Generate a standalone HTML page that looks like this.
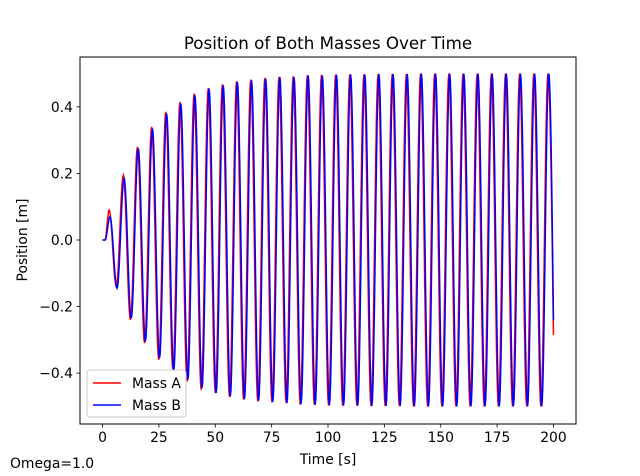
<!DOCTYPE html>
<html><head><meta charset="utf-8"><style>
html,body{margin:0;padding:0;background:#fff;}
svg{display:block;font-family:"DejaVu Sans","Liberation Sans",sans-serif;}
</style></head><body>
<svg id="chart" width="640" height="476" viewBox="0 0 640 476">
<rect x="0" y="0" width="640" height="476" fill="#fff"/>
<text x="328" y="49" font-size="16.7" text-anchor="middle" fill="#000">Position of Both Masses Over Time</text>
<g id="plot"></g>
<text x="328" y="464" font-size="13.9" text-anchor="middle" fill="#000">Time [s]</text>
<text x="0" y="0" font-size="13.9" text-anchor="middle" fill="#000" transform="translate(27,240) rotate(-90)">Position [m]</text>
<text x="10" y="468" font-size="13.9" fill="#000">Omega=1.0</text>
</svg>
<script>
const xTicks=[0,25,50,75,100,125,150,175,200];
const yTicks=[-0.4,-0.2,0,0.2,0.4];
const yTickLabels=["\u22120.4","\u22120.2","0.0","0.2","0.4"];
const seriesNames=["Mass A","Mass B"];
const tEnd=200;
const firstPeakA=2.95, halfPeriodA=3.139, endValueA=-0.285;
const firstPeakB=3.3, halfPeriodB=3.139, endValueB=-0.24;
const extremaA=[0.09,-0.14,0.195,-0.24,0.28,-0.31,0.34,-0.36,0.385,-0.39,0.415,-0.425,0.44,-0.45,0.457,-0.46,0.468,-0.472,0.477,-0.48,0.482,-0.485,0.487,-0.488,0.49,-0.49,0.492,-0.495,0.495,-0.496,0.496,-0.497,0.497,-0.498,0.498,-0.498,0.498,-0.499,0.499,-0.499,0.499,-0.499,0.499,-0.5,0.5,-0.5,0.5,-0.5,0.5,-0.5,0.5,-0.5,0.5,-0.5,0.5,-0.5,0.5,-0.5,0.5,-0.5,0.5,-0.5,0.5];
const extremaB=[0.07,-0.145,0.185,-0.235,0.275,-0.305,0.335,-0.355,0.38,-0.395,0.41,-0.42,0.435,-0.445,0.455,-0.46,0.465,-0.47,0.475,-0.478,0.48,-0.483,0.485,-0.487,0.49,-0.49,0.49,-0.493,0.495,-0.495,0.495,-0.497,0.497,-0.498,0.498,-0.498,0.498,-0.499,0.499,-0.499,0.499,-0.499,0.499,-0.5,0.5,-0.5,0.5,-0.5,0.5,-0.5,0.5,-0.5,0.5,-0.5,0.5,-0.5,0.5,-0.5,0.5,-0.5,0.5,-0.5,0.5];

const NS="http://www.w3.org/2000/svg";
const L=80,R=576,T=57,B=424;
const xMin=-10,xMax=210,yMin=-0.553,yMax=0.55;
const X=v=>L+(v-xMin)/(xMax-xMin)*(R-L);
const Y=v=>B-(v-yMin)/(yMax-yMin)*(B-T);
const plot=document.getElementById('plot');
function mk(tag,attrs,parent){const e=document.createElementNS(NS,tag);for(const k in attrs)e.setAttribute(k,attrs[k]);(parent||plot).appendChild(e);return e;}

function buildPath(firstPeak,half,ext,endVal){
  const knots=[[0,0],[firstPeak*0.35,0]];
  ext.forEach((v,i)=>knots.push([firstPeak+i*half,v]));
  let pts=[];
  for(let k=0;k<knots.length-1;k++){
    const [t0,v0]=knots[k],[t1,v1]=knots[k+1];
    for(let s=0;s<=12;s++){const u=s/12;const t=t0+(t1-t0)*u;if(t>tEnd)break;pts.push([t,v0+(v1-v0)*(1-Math.cos(Math.PI*u))/2]);}
  }
  const [tl,vl]=knots[knots.length-1];
  if(tl<tEnd){for(let s=1;s<=12;s++){const u=s/12;const t=tl+(tEnd-tl)*u;pts.push([t,vl+(endVal-vl)*(1-Math.cos(Math.PI*u/2))]);}}
  return pts.map((p,i)=>(i?'L':'M')+X(p[0]).toFixed(2)+','+Y(p[1]).toFixed(2)).join('');
}

const clip=mk('clipPath',{id:'clp'});mk('rect',{x:L,y:T,width:R-L,height:B-T},clip);
const lineA=mk('path',{d:buildPath(firstPeakA,halfPeriodA,extremaA,endValueA),fill:'none',stroke:'#ff0000','stroke-width':1.5,'clip-path':'url(#clp)'});


const lineB=mk('path',{d:buildPath(firstPeakB,halfPeriodB,extremaB,endValueB),fill:'none',stroke:'#0000ff','stroke-width':1.5,'clip-path':'url(#clp)'});



const frame=mk('rect',{x:L,y:T,width:R-L,height:B-T,fill:'none',stroke:'#000','stroke-width':1});



xTicks.forEach(v=>{
  const tk=mk('line',{x1:X(v),x2:X(v),y1:B,y2:B+3.5,stroke:'#000','stroke-width':0.8});
  
  
  const tx=mk('text',{x:X(v),y:B+18,'font-size':13.9,'text-anchor':'middle',fill:'#000'});tx.textContent=String(v);
  
  
});
yTicks.forEach((v,i)=>{
  const tk=mk('line',{x1:L-3.5,x2:L,y1:Y(v),y2:Y(v),stroke:'#000','stroke-width':0.8});
  
  
  const tx=mk('text',{x:L-7,y:Y(v)+5,'font-size':13.9,'text-anchor':'end',fill:'#000'});tx.textContent=yTickLabels[i];
  
  
});

const leg=mk('g',{});


mk('rect',{x:87,y:370,width:99,height:47,rx:3,fill:'#fff','fill-opacity':0.8,stroke:'#ccc','stroke-width':1},leg);
const cols=['#ff0000','#0000ff'];
seriesNames.forEach((n,i)=>{
  const y=383+i*22;
  const ln=mk('line',{x1:93,x2:121,y1:y,y2:y,stroke:cols[i],'stroke-width':1.5},leg);
  
  
  const tx=mk('text',{x:132,y:y+5,'font-size':13.9,fill:'#000'},leg);tx.textContent=n;
  
  
});
</script>
</body></html>
